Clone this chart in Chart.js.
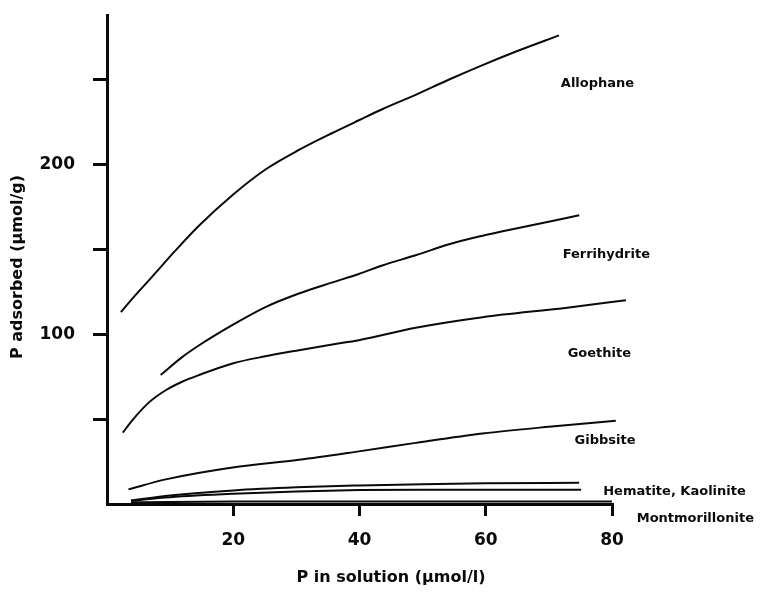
<!DOCTYPE html>
<html>
<head>
<meta charset="utf-8">
<script src="https://cdn.jsdelivr.net/npm/chart.js@4.4.1/dist/chart.umd.min.js"></script>
<style>
  html, body { margin: 0; padding: 0; background: #fff; }
  canvas { display: block; }
</style>
</head>
<body>
<canvas id="isotherms" width="763" height="592"></canvas>
<script>
// P sorption isotherms
const NAMES = ['Allophane', 'Ferrihydrite', 'Goethite', 'Gibbsite', 'Hematite', 'Kaolinite', 'Montmorillonite'];

const ALLOPHANE_X = [2.2, 4.5, 6.7, 10.9, 14.6, 19.9, 25.1, 30.4, 35.7, 39.9, 43.6, 48.9, 54.2, 59.5, 64.8, 71.6];
const ALLOPHANE_Y = [113, 123, 132, 149.5, 164, 182, 197, 208.5, 218.5, 226, 232.5, 241, 250, 258.5, 266.5, 276];

const FERRIHYDRITE_X = [8.5, 11.9, 14.6, 19.9, 25.1, 30.4, 35.7, 39.9, 43.6, 48.9, 54.2, 59.5, 64.8, 74.8];
const FERRIHYDRITE_Y = [76, 86.5, 93.5, 105.5, 116, 124, 130.5, 135.5, 140.5, 146.5, 153, 158, 162.3, 170];

const GOETHITE_X = [2.5, 4, 6.7, 9.3, 11.9, 14.6, 19.9, 25.1, 30.4, 35.7, 39.9, 48.9, 59.5, 72.6, 82.2];
const GOETHITE_Y = [42, 49.3, 60, 67, 72, 76, 82.8, 87, 90.6, 94, 96.5, 103.8, 110, 115.5, 120];

const GIBBSITE_X = [3.4, 9.3, 19.9, 30.4, 39.9, 48.9, 59.5, 70, 80.6];
const GIBBSITE_Y = [8.6, 14.5, 21.5, 26, 31, 36, 41.5, 45.5, 49];

const HEMATITE_X = [3.8, 10, 20, 30, 40, 50, 60, 74.8];
const HEMATITE_Y = [2, 5, 8, 9.8, 10.9, 11.7, 12.2, 12.5];

const KAOLINITE_X = [3.8, 10, 20, 30, 40, 50, 60, 75.1];
const KAOLINITE_Y = [2, 4, 6, 7.4, 8.2, 8.4, 8.4, 8.4];

const MONTMORILLONITE_X = [3.8, 10, 20, 40, 60, 80];
const MONTMORILLONITE_Y = [1, 1.2, 1.4, 1.5, 1.5, 1.5];

const X_TICKS = [20, 40, 60, 80];
const Y_TICKS = [50, 100, 150, 200, 250];
const Y_LABELS = [100, 200];

// curve labels: text and anchor (in data units)
const LABEL_TEXT = ['Allophane', 'Ferrihydrite', 'Goethite', 'Gibbsite', 'Hematite, Kaolinite', 'Montmorillonite'];
const LABEL_X = [77.7, 79.1, 78, 78.9, 89.9, 93.2];
const LABEL_Y = [247.6, 146.7, 88.3, 37.5, 7.4, -8.6];

const X_TITLE = 'P in solution (\u00b5mol/l)';
const Y_TITLE = 'P adsorbed (\u00b5mol/g)';

const INK = '#0a0a0a';
const FONT = "'DejaVu Sans', sans-serif";

function toPoints(xs, ys) {
  return xs.map((x, i) => ({ x, y: ys[i] }));
}

const SERIES = [
  [ALLOPHANE_X, ALLOPHANE_Y],
  [FERRIHYDRITE_X, FERRIHYDRITE_Y],
  [GOETHITE_X, GOETHITE_Y],
  [GIBBSITE_X, GIBBSITE_Y],
  [HEMATITE_X, HEMATITE_Y],
  [KAOLINITE_X, KAOLINITE_Y],
  [MONTMORILLONITE_X, MONTMORILLONITE_Y],
];

const datasets = SERIES.map(([xs, ys], i) => ({
  label: NAMES[i],
  data: toPoints(xs, ys),
  borderColor: INK,
  borderWidth: 2,
  pointRadius: 0,
  cubicInterpolationMode: 'monotone',
  clip: false,
}));

// draws the curve names and the two axis titles
const textPlugin = {
  id: 'textPlugin',
  afterDraw(chart) {
    const ctx = chart.ctx;
    const xs = chart.scales.x, ys = chart.scales.y;
    ctx.save();
    ctx.fillStyle = INK;
    ctx.textAlign = 'center';
    ctx.textBaseline = 'middle';
    ctx.font = `bold 13px ${FONT}`;
    LABEL_TEXT.forEach((t, i) => {
      ctx.fillText(t, xs.getPixelForValue(LABEL_X[i]), ys.getPixelForValue(LABEL_Y[i]));
    });

    ctx.font = `bold 16px ${FONT}`;
    ctx.fillText(X_TITLE, 391, 578);
    ctx.translate(18, 267);
    ctx.rotate(-Math.PI / 2);
    ctx.fillText(Y_TITLE, 0, 0);
    ctx.restore();
  },
};

function noPad(s) {
  s.paddingTop = 0; s.paddingBottom = 0; s.paddingLeft = 0; s.paddingRight = 0;
}

new Chart(document.getElementById('isotherms'), {
  type: 'line',
  data: { datasets },
  options: {
    responsive: false,
    animation: false,
    layout: { padding: { top: 15, right: 151, bottom: 0, left: 0 } },
    plugins: { legend: { display: false }, tooltip: { enabled: false } },
    scales: {
      x: {
        type: 'linear',
        min: 0,
        max: 80,
        afterBuildTicks: (s) => { s.ticks = X_TICKS.map((v) => ({ value: v })); },
        afterFit: (s) => { s.height = 88; noPad(s); },
        ticks: {
          color: INK,
          font: { family: FONT, weight: 'bold', size: 17 },
          padding: 14,
          maxRotation: 0,
          autoSkip: false,
        },
        grid: { drawOnChartArea: false, tickLength: 12, lineWidth: 3, color: INK },
        border: { display: true, width: 3, color: INK },
      },
      y: {
        type: 'linear',
        min: 0,
        max: 288,
        afterBuildTicks: (s) => { s.ticks = Y_TICKS.map((v) => ({ value: v })); },
        afterFit: (s) => { s.width = 107; noPad(s); },
        ticks: {
          color: INK,
          font: { family: FONT, weight: 'bold', size: 17 },
          padding: 18,
          callback: (v) => (Y_LABELS.includes(v) ? String(v) : ''),
        },
        grid: { drawOnChartArea: false, tickLength: 14, lineWidth: 3, color: INK },
        border: { display: true, width: 3, color: INK },
      },
    },
  },
  plugins: [textPlugin],
});
</script>
</body>
</html>
